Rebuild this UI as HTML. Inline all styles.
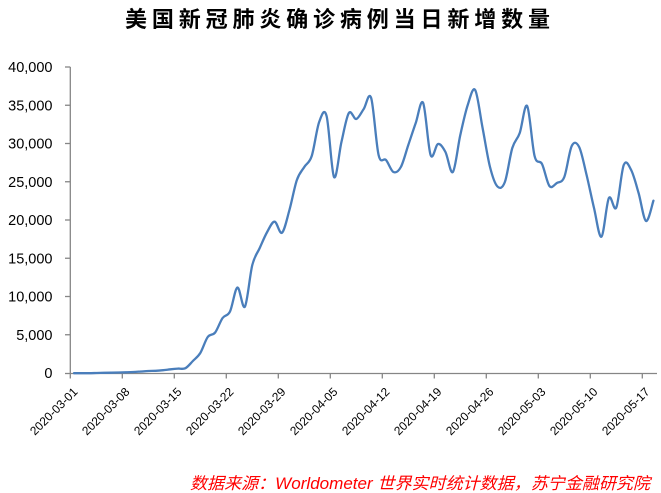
<!DOCTYPE html>
<html>
<head>
<meta charset="utf-8">
<style>
html,body{margin:0;padding:0;background:#fff;}
svg{display:block;}
.yl{font-family:"Liberation Sans",sans-serif;font-size:14.5px;fill:#000;text-anchor:end;}
.xl{font-family:"Liberation Sans",sans-serif;font-size:12px;fill:#000;text-anchor:end;}
</style>
</head>
<body>
<svg width="661" height="493" viewBox="0 0 661 493" xmlns="http://www.w3.org/2000/svg">
<rect width="661" height="493" fill="#fff"/>
<text x="125" y="27" textLength="425" lengthAdjust="spacing" style="font-family:'Liberation Sans','Noto Sans CJK SC',sans-serif;font-size:22px;font-weight:bold;fill:#000;">美国新冠肺炎确诊病例当日新增数量</text>

<g stroke="#868686" stroke-width="1.3" fill="none">
<line x1="70.3" y1="67" x2="70.3" y2="373.5"/>
<line x1="70.3" y1="373.5" x2="657" y2="373.5"/>
<line x1="65" y1="67" x2="70.3" y2="67"/>
<line x1="65" y1="105.25" x2="70.3" y2="105.25"/>
<line x1="65" y1="143.5" x2="70.3" y2="143.5"/>
<line x1="65" y1="181.75" x2="70.3" y2="181.75"/>
<line x1="65" y1="220" x2="70.3" y2="220"/>
<line x1="65" y1="258.25" x2="70.3" y2="258.25"/>
<line x1="65" y1="296.5" x2="70.3" y2="296.5"/>
<line x1="65" y1="334.75" x2="70.3" y2="334.75"/>
<line x1="65" y1="373.5" x2="70.3" y2="373.5"/>
<line x1="70.3" y1="373.5" x2="70.3" y2="378.5"/>
<line x1="122.3" y1="373.5" x2="122.3" y2="378.5"/>
<line x1="174.3" y1="373.5" x2="174.3" y2="378.5"/>
<line x1="226.3" y1="373.5" x2="226.3" y2="378.5"/>
<line x1="278.3" y1="373.5" x2="278.3" y2="378.5"/>
<line x1="330.3" y1="373.5" x2="330.3" y2="378.5"/>
<line x1="382.3" y1="373.5" x2="382.3" y2="378.5"/>
<line x1="434.3" y1="373.5" x2="434.3" y2="378.5"/>
<line x1="486.3" y1="373.5" x2="486.3" y2="378.5"/>
<line x1="538.3" y1="373.5" x2="538.3" y2="378.5"/>
<line x1="590.3" y1="373.5" x2="590.3" y2="378.5"/>
<line x1="642.3" y1="373.5" x2="642.3" y2="378.5"/>
</g>

<text class="yl" x="52.5" y="72.2">40,000</text>
<text class="yl" x="52.5" y="110.4">35,000</text>
<text class="yl" x="52.5" y="148.7">30,000</text>
<text class="yl" x="52.5" y="186.9">25,000</text>
<text class="yl" x="52.5" y="225.2">20,000</text>
<text class="yl" x="52.5" y="263.4">15,000</text>
<text class="yl" x="52.5" y="301.7">10,000</text>
<text class="yl" x="52.5" y="339.9">5,000</text>
<text class="yl" x="52.5" y="378.2">0</text>

<text class="xl" transform="translate(78.3,392.5) rotate(-45)">2020-03-01</text>
<text class="xl" transform="translate(130.3,392.5) rotate(-45)">2020-03-08</text>
<text class="xl" transform="translate(182.3,392.5) rotate(-45)">2020-03-15</text>
<text class="xl" transform="translate(234.3,392.5) rotate(-45)">2020-03-22</text>
<text class="xl" transform="translate(286.3,392.5) rotate(-45)">2020-03-29</text>
<text class="xl" transform="translate(338.3,392.5) rotate(-45)">2020-04-05</text>
<text class="xl" transform="translate(390.3,392.5) rotate(-45)">2020-04-12</text>
<text class="xl" transform="translate(442.3,392.5) rotate(-45)">2020-04-19</text>
<text class="xl" transform="translate(494.3,392.5) rotate(-45)">2020-04-26</text>
<text class="xl" transform="translate(546.3,392.5) rotate(-45)">2020-05-03</text>
<text class="xl" transform="translate(598.3,392.5) rotate(-45)">2020-05-10</text>
<text class="xl" transform="translate(650.3,392.5) rotate(-45)">2020-05-17</text>

<path id="ln" fill="none" stroke="#4A7EBB" stroke-width="2.3" stroke-linejoin="round" stroke-linecap="round"
d="M74.0,373.2 L81.4,373.2 88.9,373.2 96.3,373.0 103.7,372.8 111.1,372.7 118.6,372.5 126.0,372.3 133.4,372.0 140.9,371.5 148.3,371.0 155.7,370.8 163.2,370.2 170.6,369.3 178.0,368.6 185.5,368.2 192.9,361 200.3,353 207.8,337 215.2,332.5 222.6,318 230.1,311.5 237.5,287.5 244.9,306.7 252.4,265 259.8,248 267.2,232 274.7,221.7 282.1,232.7 289.5,210 297.0,180 304.4,167 311.8,156 319.3,122 326.7,116 334.1,177 341.6,142 349.0,113 356.4,119 363.9,109 371.3,98 378.7,155 386.2,160 393.6,172 401.0,167 408.5,145 415.9,123 423.3,103 430.8,155 438.2,144 445.6,152 453.1,172 460.5,135 467.9,105 475.4,90 482.8,128 490.2,167 497.7,186.5 505.1,182 512.5,148 520.0,133 527.4,106 534.8,156 542.3,164 549.7,186 557.1,183 564.6,177 572.0,146 579.4,147 586.9,175 594.3,208 601.7,236.7 609.1,198 616.6,207.5 624.0,165 631.4,170 638.9,193 646.3,221 653.7,200.7"/>

<text x="190" y="489" textLength="460" lengthAdjust="spacingAndGlyphs" style="font-family:'Liberation Sans','Noto Sans CJK SC',sans-serif;font-size:16.5px;font-style:italic;fill:#FF0000;">数据来源：Worldometer 世界实时统计数据，苏宁金融研究院</text>
</svg>
<script>
(function(){
  var ys=[373.2,373.2,373.2,373.0,372.8,372.7,372.5,372.3,372.0,371.5,371.0,370.8,370.2,369.3,368.6,368.2,361,353,337,332.5,318,311.5,287.5,306.7,265,248,232,221.7,232.7,210,180,167,156,122,116,177,142,113,119,109,98,155,160,172,167,145,123,103,155,144,152,172,135,105,90,128,167,186.5,182,148,133,106,156,164,186,183,177,146,147,175,208,236.7,198,207.5,165,170,193,221,200.7];
  var w=52/7, pts=[];
  for(var i=0;i<ys.length;i++){pts.push([70.3+(i+0.5)*w, ys[i]]);}
  var n=pts.length, d="M"+pts[0][0].toFixed(2)+","+pts[0][1].toFixed(2);
  for(var i=0;i<n-1;i++){
    var p0=pts[i>0?i-1:i], p1=pts[i], p2=pts[i+1], p3=pts[i+2<n?i+2:i+1];
    var c1x=p1[0]+(p2[0]-p0[0])/6, c1y=p1[1]+(p2[1]-p0[1])/6;
    var c2x=p2[0]-(p3[0]-p1[0])/6, c2y=p2[1]-(p3[1]-p1[1])/6;
    d+=" C"+c1x.toFixed(2)+","+c1y.toFixed(2)+" "+c2x.toFixed(2)+","+c2y.toFixed(2)+" "+p2[0].toFixed(2)+","+p2[1].toFixed(2);
  }
  document.getElementById("ln").setAttribute("d",d);
})();
</script>
</body>
</html>
